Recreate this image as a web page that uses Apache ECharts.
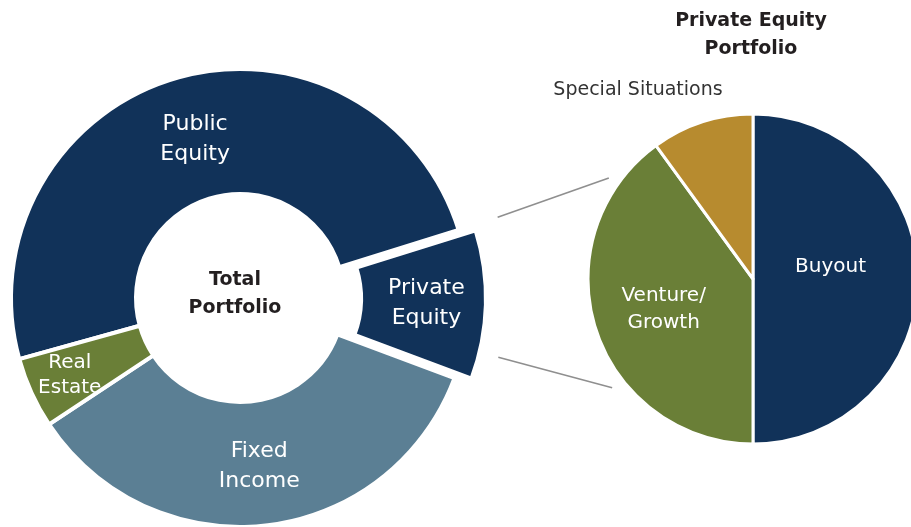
<!DOCTYPE html>
<html>
<head>
<meta charset="utf-8">
<script src="https://cdn.jsdelivr.net/npm/echarts@6/dist/echarts.min.js"></script>
<style>
html,body{margin:0;padding:0;background:#fff;}
#chart{width:911px;height:527px;}
</style>
</head>
<body>
<div id="chart"></div>
<script>
// ---- data ----
const totalCategories = ['Public\nEquity', 'Private\nEquity', 'Fixed\nIncome', 'Real\nEstate'];
const totalValues = [49.5, 10.5, 35, 5];
const totalColors = ['#113259', '#113259', '#5b7f94', '#6a7f37'];

const peCategories = ['Buyout', 'Venture/\nGrowth', 'Special Situations'];
const peValues = [50, 40, 10];
const peColors = ['#113259', '#6a7f37', '#b78b2f'];

const titles = ['Total\nPortfolio', 'Private Equity\nPortfolio'];

// ---- layout ----
const FONT = 'DejaVu Sans';
const L = { cx: 240, cy: 298, r0: 104, r: 229 };
const R = { cx: 753, cy: 279, r: 165 };

function polar(c, rad, deg) {
  const a = deg * Math.PI / 180;
  return [c.cx + rad * Math.cos(a), c.cy - rad * Math.sin(a)];
}
const c1a = polar(L, 270, 17.4), c1b = polar(R, 176, 145);
const c2a = polar(L, 265, -12.9), c2b = polar(R, 178, 217.7);

const chart = echarts.init(document.getElementById('chart'), null, { renderer: 'canvas' });

chart.setOption({
  animation: false,
  backgroundColor: '#ffffff',
  title: [
    {
      text: titles[0], left: L.cx - 5, top: 266, textAlign: 'center', padding: 0,
      textStyle: { fontFamily: FONT, fontSize: 19, fontWeight: 'bold', color: '#231f20', lineHeight: 28, align: 'center' }
    },
    {
      text: titles[1], left: 751, top: 7, textAlign: 'center', padding: 0,
      textStyle: { fontFamily: FONT, fontSize: 19, fontWeight: 'bold', color: '#231f20', lineHeight: 28, align: 'center' }
    }
  ],
  graphic: [
    { type: 'line', shape: { x1: c1a[0], y1: c1a[1], x2: c1b[0], y2: c1b[1] }, style: { stroke: '#8f8f8f', lineWidth: 1.6 }, silent: true },
    { type: 'line', shape: { x1: c2a[0], y1: c2a[1], x2: c2b[0], y2: c2b[1] }, style: { stroke: '#8f8f8f', lineWidth: 1.6 }, silent: true }
  ],
  series: [
    {
      type: 'pie',
      center: [L.cx, L.cy],
      radius: [L.r0, L.r],
      startAngle: 195.5,
      clockwise: true,
      selectedMode: 'single',
      selectedOffset: 17,
      avoidLabelOverlap: false,
      itemStyle: { borderColor: '#ffffff', borderWidth: 4 },
      label: {
        show: true, position: 'inside', color: '#ffffff',
        fontFamily: FONT, fontSize: 22, lineHeight: 30, align: 'center',
        formatter: '{b}'
      },
      labelLine: { show: false },
      labelLayout: function (p) {
        if (p.dataIndex === 3) return { dx: -16, dy: 7 };
        if (p.dataIndex === 0) return { dx: 3, dy: 4 };
        return {};
      },
      emphasis: { disabled: true },
      data: totalCategories.map((n, i) => ({
        name: n, value: totalValues[i], selected: i === 1,
        itemStyle: { color: totalColors[i] },
        label: i === 3 ? { fontSize: 20, lineHeight: 25 } : {}
      }))
    },
    {
      type: 'pie',
      center: [R.cx, R.cy],
      radius: [0, R.r],
      startAngle: 90,
      clockwise: true,
      avoidLabelOverlap: false,
      itemStyle: { borderColor: '#ffffff', borderWidth: 3 },
      label: {
        show: true, position: 'inside', color: '#ffffff',
        fontFamily: FONT, fontSize: 20, lineHeight: 27, align: 'center',
        formatter: '{b}'
      },
      labelLine: { show: false },
      labelLayout: function (p) {
        if (p.dataIndex === 2) return { x: 638, y: 90, align: 'center', verticalAlign: 'middle' };
        if (p.dataIndex === 0) return { dx: -8, dy: -12 };
        if (p.dataIndex === 1) return { dx: -8, dy: 4 };
        return {};
      },
      emphasis: { disabled: true },
      data: peCategories.map((n, i) => ({
        name: n, value: peValues[i],
        itemStyle: { color: peColors[i] },
        label: i === 2 ? { color: '#333333', fontSize: 19 } : {}
      }))
    }
  ]
});
</script>
</body>
</html>
